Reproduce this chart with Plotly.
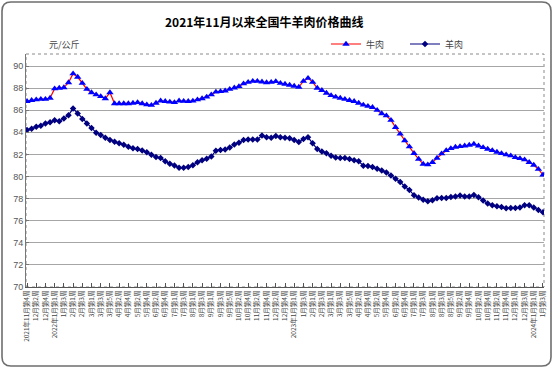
import plotly.graph_objects as go

week_labels = [
    "2021年11月第4周",
    "12月第1周", "12月第2周", "12月第3周", "12月第4周", "12月第5周",
    "2022年1月第1周", "1月第2周", "1月第3周", "1月第4周",
    "2月第1周", "2月第2周", "2月第3周", "2月第4周",
    "3月第1周", "3月第2周", "3月第3周", "3月第4周", "3月第5周",
    "4月第1周", "4月第2周", "4月第3周", "4月第4周",
    "5月第1周", "5月第2周", "5月第3周", "5月第4周",
    "6月第1周", "6月第2周", "6月第3周", "6月第4周", "6月第5周",
    "7月第1周", "7月第2周", "7月第3周", "7月第4周",
    "8月第1周", "8月第2周", "8月第3周", "8月第4周",
    "9月第1周", "9月第2周", "9月第3周", "9月第4周", "9月第5周",
    "10月第1周", "10月第2周", "10月第3周", "10月第4周",
    "11月第1周", "11月第2周", "11月第3周", "11月第4周",
    "12月第1周", "12月第2周", "12月第3周", "12月第4周", "12月第5周",
    "2023年1月第1周", "1月第2周", "1月第3周", "1月第4周",
    "2月第1周", "2月第2周", "2月第3周", "2月第4周",
    "3月第1周", "3月第2周", "3月第3周", "3月第4周", "3月第5周",
    "4月第1周", "4月第2周", "4月第3周", "4月第4周",
    "5月第1周", "5月第2周", "5月第3周", "5月第4周",
    "6月第1周", "6月第2周", "6月第3周", "6月第4周", "6月第5周",
    "7月第1周", "7月第2周", "7月第3周", "7月第4周",
    "8月第1周", "8月第2周", "8月第3周", "8月第4周", "8月第5周",
    "9月第1周", "9月第2周", "9月第3周", "9月第4周",
    "10月第1周", "10月第2周", "10月第3周", "10月第4周",
    "11月第1周", "11月第2周", "11月第3周", "11月第4周", "11月第5周",
    "12月第1周", "12月第2周", "12月第3周", "12月第4周",
    "2024年1月第1周", "1月第2周", "1月第3周",
]

beef = [
    86.8, 86.9, 86.95, 87.0, 87.0, 87.1, 87.95, 88.0, 88.05, 88.5,
    89.3, 89.0, 88.45, 87.9, 87.6, 87.4, 87.25, 87.05, 87.6, 86.6,
    86.6, 86.6, 86.6, 86.65, 86.7, 86.6, 86.5, 86.45, 86.65, 86.85,
    86.8, 86.75, 86.7, 86.85, 86.82, 86.8, 86.84, 86.95, 87.05, 87.2,
    87.4, 87.65, 87.7, 87.76, 87.9, 88.03, 88.15, 88.4, 88.54, 88.63,
    88.63, 88.57, 88.5, 88.54, 88.6, 88.45, 88.36, 88.27, 88.18, 88.1,
    88.63, 88.9, 88.54, 88.0, 87.8, 87.55, 87.34, 87.2, 87.1, 87.0,
    86.9, 86.8, 86.65, 86.48, 86.36, 86.26, 86.0, 85.7, 85.5, 85.1,
    84.45, 83.85, 83.25, 82.7, 82.1, 81.58, 81.13, 81.07, 81.28, 81.67,
    82.06, 82.36, 82.54, 82.66, 82.72, 82.78, 82.84, 82.93, 82.78, 82.63,
    82.48, 82.36, 82.21, 82.09, 81.97, 81.88, 81.73, 81.64, 81.52, 81.28,
    81.04, 80.66, 80.15,
]

mutton = [
    84.2, 84.33, 84.5, 84.6, 84.8, 84.9, 85.1, 85.0, 85.25, 85.55,
    86.15, 85.7, 85.2, 84.8, 84.4, 83.97, 83.76, 83.5, 83.3, 83.15,
    83.0, 82.87, 82.7, 82.55, 82.5, 82.35, 82.2, 81.97, 81.76, 81.67,
    81.37, 81.16, 81.0, 80.8, 80.8, 80.86, 81.02, 81.3, 81.46, 81.6,
    81.8, 82.34, 82.4, 82.45, 82.63, 82.9, 83.05, 83.3, 83.35, 83.35,
    83.35, 83.7, 83.55, 83.5, 83.67, 83.55, 83.5, 83.46, 83.3, 83.13,
    83.4, 83.55, 83.0, 82.48, 82.27, 82.1, 81.88, 81.73, 81.67, 81.67,
    81.58, 81.46, 81.37, 80.97, 80.95, 80.85, 80.7, 80.54, 80.36, 80.1,
    79.8, 79.5, 79.1, 78.78, 78.3, 78.1, 77.9, 77.76, 77.85, 78.03,
    78.06, 78.06, 78.15, 78.2, 78.27, 78.2, 78.2, 78.33, 78.12, 77.82,
    77.55, 77.4, 77.3, 77.24, 77.12, 77.15, 77.15, 77.2, 77.4, 77.4,
    77.2, 76.97, 76.76,
]

y_ticks = [70, 72, 74, 76, 78, 80, 82, 84, 86, 88, 90]

title_text = "2021年11月以来全国牛羊肉价格曲线"
unit_text = "元/公斤"

x = list(range(len(week_labels)))
tick_idx = x[::2]
tick_text = [week_labels[i] for i in tick_idx]

W, H = 554, 369
L, R, T, B = 26, 10, 54, 82
pw, ph = W - L - R, H - T - B


def px(xp):
    return (xp - L) / pw


def py(yp):
    return (H - B - yp) / ph


fig = go.Figure()
fig.add_trace(go.Scatter(
    x=x, y=beef, name="牛肉", mode="lines+markers",
    line=dict(color="#ff0000", width=1.2),
    marker=dict(symbol="triangle-up", size=6.5, color="#0000ff"),
))
fig.add_trace(go.Scatter(
    x=x, y=mutton, name="羊肉", mode="lines+markers",
    line=dict(color="#000080", width=1.2),
    marker=dict(symbol="diamond", size=5, color="#000080"),
))

# outer rounded border of the chart area
x0, x1 = px(2), px(551)
y0, y1 = py(366), py(2)
rx, ry = 9 / pw, 9 / ph
path = (f"M {x0+rx},{y1} L {x1-rx},{y1} Q {x1},{y1} {x1},{y1-ry} "
        f"L {x1},{y0+ry} Q {x1},{y0} {x1-rx},{y0} L {x0+rx},{y0} "
        f"Q {x0},{y0} {x0},{y0+ry} L {x0},{y1-ry} Q {x0},{y1} {x0+rx},{y1} Z")
fig.add_shape(type="path", path=path, xref="paper", yref="paper",
              line=dict(color="#6e6e6e", width=1.6), layer="below")
# dashed plot-area border
fig.add_shape(type="rect", x0=0, x1=1, y0=0, y1=1, xref="paper", yref="paper",
              line=dict(color="#8a8a8a", width=1, dash="dot"), layer="below")

fig.add_annotation(text=f"<b>{title_text}</b>", x=px(264), y=py(21),
                   xref="paper", yref="paper", showarrow=False,
                   xanchor="center", yanchor="middle",
                   font=dict(size=12, color="#000000", family="Noto Sans CJK SC"))
fig.add_annotation(text=unit_text, x=px(64), y=py(44),
                   xref="paper", yref="paper", showarrow=False,
                   xanchor="center", yanchor="middle",
                   font=dict(size=9, color="#444444", family="Noto Sans CJK SC"))

fig.update_layout(
    width=W, height=H,
    margin=dict(l=L, r=R, t=T, b=B, pad=0, autoexpand=False),
    paper_bgcolor="white", plot_bgcolor="white",
    showlegend=True,
    legend=dict(orientation="h", x=px(326), y=py(44), xanchor="left", yanchor="middle",
                font=dict(size=9, color="#444444", family="Noto Sans CJK SC"),
                entrywidth=34, entrywidthmode="pixels", itemwidth=30,
                bgcolor="rgba(0,0,0,0)", traceorder="normal"),
    xaxis=dict(
        range=[-0.22, len(x) - 1 + 0.22],
        tickmode="array", tickvals=tick_idx, ticktext=tick_text,
        tickangle=-90, ticks="inside", ticklen=4, tickcolor="#555555",
        showgrid=False, zeroline=False, automargin=False,
        showline=True, linecolor="#555555", linewidth=1,
        tickfont=dict(size=6.5, color="#444444", family="Noto Sans CJK SC"),
        fixedrange=True,
    ),
    yaxis=dict(
        range=[70, 70 + ph / 11.05],
        tickmode="array", tickvals=y_ticks, automargin=False,
        ticks="inside", ticklen=3, tickcolor="#777777",
        showgrid=True, gridcolor="#a6a6a6", gridwidth=1,
        zeroline=False, showline=True, linecolor="#777777", linewidth=1,
        tickfont=dict(size=9, color="#555555", family="Liberation Sans"),
        fixedrange=True,
    ),
)

fig.write_html("out.html", config={"displayModeBar": False},
               post_script="document.body.style.margin='0';")
